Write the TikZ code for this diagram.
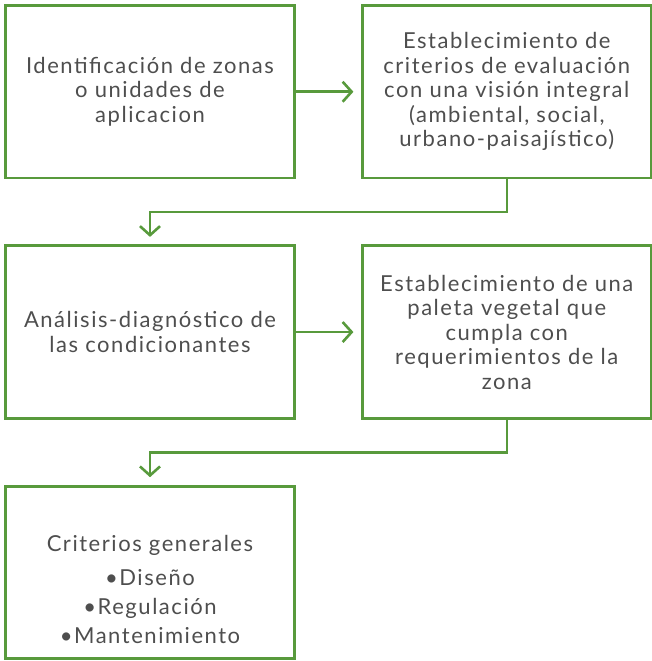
\documentclass[tikz,border=0pt]{standalone}
\usepackage{fontspec}
\setmainfont{Lato}[LetterSpace=7]
\usetikzlibrary{positioning,arrows.meta,calc}
\definecolor{leafgreen}{RGB}{88,154,60}
\definecolor{inkgray}{RGB}{78,78,78}
\begin{document}
\begin{tikzpicture}
  \tikzset{
    stage/.style={draw=leafgreen, line width=2.8pt, minimum width=289pt,
      minimum height=172.5pt, align=center, text=inkgray,
      font=\fontsize{22}{24.5}\selectfont, inner sep=0pt},
    flow/.style={leafgreen, line width=2.6pt,
      -{Straight Barb[length=9pt,width=20pt]}, shorten >=7.5pt}
  }
  \useasboundingbox (0,0) rectangle (652pt,-661pt);
  \node[stage] (ident) at (150pt,-91.75pt)
    {Identificación de zonas\\o unidades de\\aplicacion};
  \node[stage, right=65pt of ident] (crit)
    {Establecimiento de\\criterios de evaluación\\con una visión integral\\(ambiental, social,\\urbano-paisajístico)};
  \node[stage, below=65pt of ident] (diag)
    {Análisis-diagnóstico de\\las condicionantes};
  \node[stage, right=65pt of diag] (paleta)
    {Establecimiento de una\\paleta vegetal que\\cumpla con\\requerimientos de la\\zona};
  \node[stage, below=65pt of diag] (gral) {};
  \node[text=inkgray, align=center, font=\fontsize{22}{29}\selectfont]
    (gralt) at ([yshift=-17pt]gral.center)
    {Criterios generales\\[5pt]•Diseño\\•Regulación\\•Mantenimiento};
  \draw[flow] (ident) -- (crit);
  \draw[flow] (diag) -- (paleta);
  \draw[flow] (crit.south) -- ++(0,-32.5pt) -| (diag.north);
  \draw[flow] (paleta.south) -- ++(0,-32.5pt) -| (gral.north);
\end{tikzpicture}
\end{document}
